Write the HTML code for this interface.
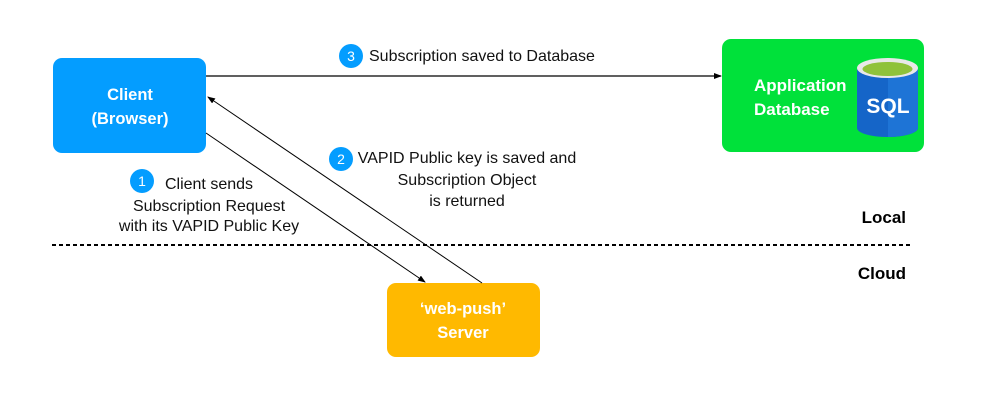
<!DOCTYPE html>
<html><head><style>
html,body{margin:0;padding:0;background:#fff;}
svg text{font-family:"Liberation Sans",sans-serif;}
</style></head><body>
<svg width="985" height="400" viewBox="0 0 985 400" xmlns="http://www.w3.org/2000/svg">
<defs>
<marker id="a" markerWidth="8" markerHeight="6" refX="7" refY="3" orient="auto" markerUnits="userSpaceOnUse">
<path d="M0,0 L8,3 L0,6 z" fill="#000"/></marker>
</defs>
<rect x="53" y="58" width="153" height="95" rx="9" fill="#049dff"/>
<text x="130" y="100" text-anchor="middle" fill="#fff" font-size="16.5" font-weight="bold">Client</text>
<text x="130" y="124" text-anchor="middle" fill="#fff" font-size="16.5" font-weight="bold">(Browser)</text>

<rect x="722" y="39" width="202" height="113" rx="9" fill="#00e13a"/>
<text x="754" y="91" fill="#fff" font-size="17" font-weight="bold">Application</text>
<text x="754" y="115" fill="#fff" font-size="17" font-weight="bold">Database</text>
<path d="M857,68 L857,128 A30.5,9 0 0 0 918,128 L918,68 z" fill="#1565c8"/>
<path d="M888,68 L918,68 L918,128 A30.5,9 0 0 1 888,137 z" fill="#1e74d6"/>
<ellipse cx="887.5" cy="68" rx="30.5" ry="10" fill="#e8e8e8"/>
<ellipse cx="887.5" cy="69" rx="25" ry="7" fill="#8fc23a"/>
<text x="888" y="113" text-anchor="middle" fill="#fff" font-size="21" font-weight="bold">SQL</text>

<rect x="387" y="283" width="153" height="74" rx="9" fill="#ffb900"/>
<text x="463" y="314" text-anchor="middle" fill="#fff" font-size="16.5" font-weight="bold">‘web-push’</text>
<text x="463" y="338" text-anchor="middle" fill="#fff" font-size="16.5" font-weight="bold">Server</text>

<line x1="206" y1="76" x2="721" y2="76" stroke="#000" stroke-width="1.2" marker-end="url(#a)"/>
<line x1="206" y1="133" x2="425" y2="282" stroke="#000" stroke-width="1" marker-end="url(#a)"/>
<line x1="482" y1="283" x2="208" y2="97" stroke="#000" stroke-width="1" marker-end="url(#a)"/>

<line x1="52" y1="245" x2="910" y2="245" stroke="#000" stroke-width="2" stroke-dasharray="4,3"/>
<text x="906" y="223" text-anchor="end" font-size="17" font-weight="bold">Local</text>
<text x="906" y="279" text-anchor="end" font-size="17" font-weight="bold">Cloud</text>

<circle cx="351" cy="56" r="12" fill="#049dff"/>
<text x="351" y="61" text-anchor="middle" fill="#fff" font-size="14">3</text>
<text x="369" y="61" font-size="16" fill="#111">Subscription saved to Database</text>

<circle cx="142" cy="181" r="12" fill="#049dff"/>
<text x="142" y="186" text-anchor="middle" fill="#fff" font-size="14">1</text>
<text x="209" y="189" text-anchor="middle" font-size="16" fill="#111">Client sends</text>
<text x="209" y="211" text-anchor="middle" font-size="16" fill="#111">Subscription Request</text>
<text x="209" y="231" text-anchor="middle" font-size="16" fill="#111">with its VAPID Public Key</text>

<circle cx="341" cy="159" r="12" fill="#049dff"/>
<text x="341" y="164" text-anchor="middle" fill="#fff" font-size="14">2</text>
<text x="467" y="163" text-anchor="middle" font-size="16" fill="#111">VAPID Public key is saved and</text>
<text x="467" y="185" text-anchor="middle" font-size="16" fill="#111">Subscription Object</text>
<text x="467" y="206" text-anchor="middle" font-size="16" fill="#111">is returned</text>
</svg>
</body></html>
